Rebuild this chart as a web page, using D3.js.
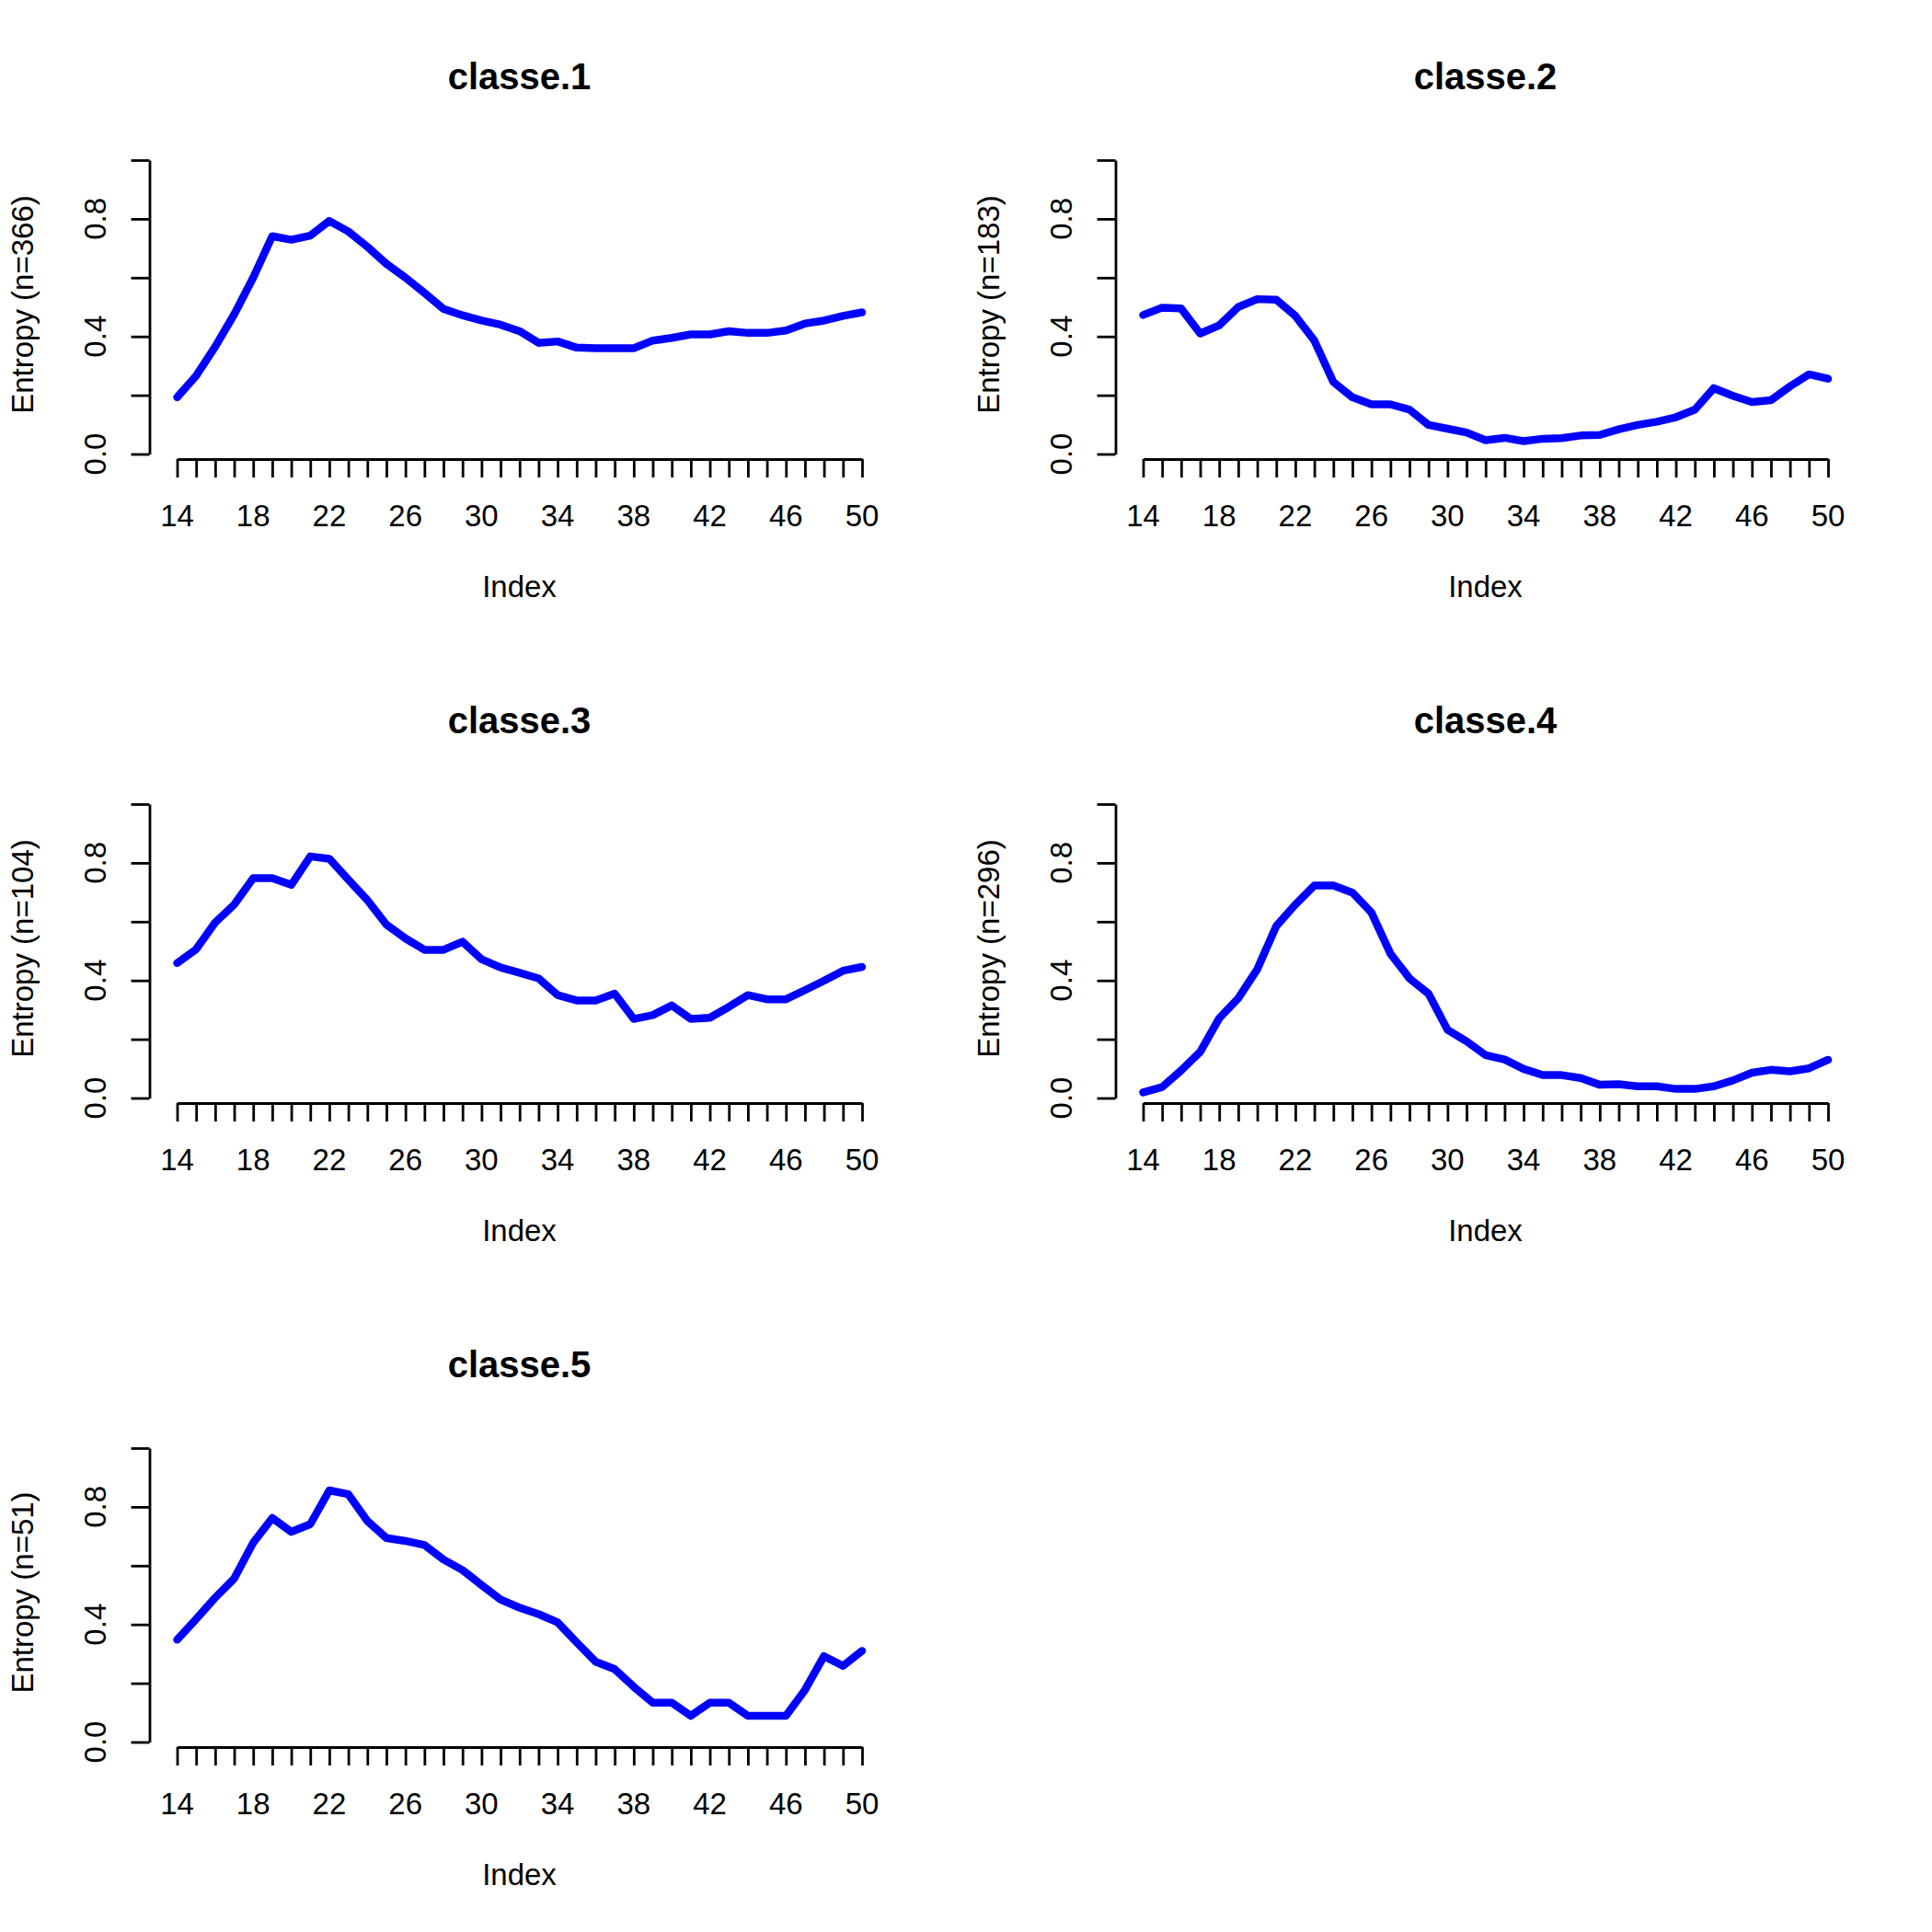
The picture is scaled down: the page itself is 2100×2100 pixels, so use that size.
<!DOCTYPE html>
<html><head><meta charset="utf-8">
<script src="https://cdn.jsdelivr.net/npm/d3@7"></script>
<style>body{margin:0;background:#fff} svg{display:block}</style>
</head><body>
<script>
// ---- data ----
const indexValues = [14,15,16,17,18,19,20,21,22,23,24,25,26,27,28,29,30,31,32,33,34,35,36,37,38,39,40,41,42,43,44,45,46,47,48,49,50];
const classe1 = [0.193,0.266,0.365,0.475,0.600,0.741,0.729,0.743,0.793,0.757,0.705,0.647,0.600,0.548,0.494,0.472,0.454,0.440,0.418,0.378,0.383,0.362,0.360,0.360,0.360,0.386,0.395,0.407,0.407,0.418,0.412,0.412,0.420,0.444,0.454,0.470,0.482];
const classe2 = [0.473,0.498,0.495,0.410,0.438,0.500,0.527,0.525,0.470,0.386,0.245,0.193,0.169,0.169,0.151,0.099,0.086,0.073,0.047,0.055,0.044,0.052,0.054,0.063,0.065,0.084,0.099,0.110,0.125,0.151,0.224,0.198,0.177,0.183,0.230,0.271,0.256];
const classe3 = [0.459,0.506,0.597,0.658,0.748,0.748,0.725,0.822,0.814,0.743,0.673,0.590,0.543,0.504,0.504,0.532,0.472,0.444,0.426,0.407,0.350,0.332,0.332,0.355,0.269,0.282,0.315,0.269,0.273,0.310,0.350,0.336,0.336,0.367,0.399,0.433,0.446];
const classe4 = [0.019,0.037,0.094,0.157,0.271,0.339,0.438,0.585,0.658,0.723,0.723,0.699,0.631,0.491,0.407,0.355,0.232,0.193,0.146,0.131,0.099,0.078,0.078,0.068,0.045,0.047,0.040,0.040,0.031,0.031,0.040,0.060,0.086,0.096,0.091,0.101,0.130];
const classe5 = [0.348,0.418,0.491,0.556,0.678,0.762,0.715,0.741,0.856,0.843,0.752,0.694,0.684,0.670,0.621,0.585,0.534,0.485,0.457,0.435,0.407,0.339,0.273,0.248,0.188,0.134,0.134,0.089,0.134,0.134,0.089,0.089,0.089,0.177,0.292,0.259,0.310];
const panelTitles = ["classe.1","classe.2","classe.3","classe.4","classe.5"];
const panelCounts = [366,183,104,296,51];
const xTickLabels = [14,18,22,26,30,34,38,42,46,50];
const yTickValues = [0,0.2,0.4,0.6,0.8,1.0];
const yTickLabels = [0,0.4,0.8];

// ---- drawing ----
const W = 2100, H = 2100;
const FONT = "'Liberation Sans', Arial, sans-serif";
const svg = d3.select("body").append("svg").attr("width", W).attr("height", H);
svg.append("rect").attr("width", W).attr("height", H).attr("fill", "#fff");

const series = [classe1, classe2, classe3, classe4, classe5];
const plotLeft = 162.5, plotRight = 966.5, axisBottomY = 499;

series.forEach((vals, i) => {
  const col = i % 2, row = Math.floor(i / 2);
  const g = svg.append("g").attr("transform", `translate(${col * 1050},${row * 700})`);
  const x = d3.scaleLinear().domain([14, 50]).range([192.5, 937]);
  const y = d3.scaleLinear().domain([0, 1]).range([493.5, 174]);

  const ya = g.append("g").attr("transform", `translate(${plotLeft},0)`)
    .call(d3.axisLeft(y).tickValues(yTickValues).tickSize(20).tickSizeOuter(0).tickFormat(""));
  const xa = g.append("g").attr("transform", `translate(0,${axisBottomY})`)
    .call(d3.axisBottom(x).tickValues(indexValues).tickSize(20).tickSizeOuter(0).tickFormat(""));
  [ya, xa].forEach(a => {
    a.selectAll("path.domain").attr("stroke", "#000").attr("stroke-width", 2.8);
    a.selectAll(".tick line").attr("stroke", "#000").attr("stroke-width", 2.8);
  });

  g.selectAll("text.ytl").data(yTickLabels).enter().append("text")
    .attr("class", "ytl")
    .attr("transform", d => `translate(115,${y(d)}) rotate(-90)`)
    .attr("text-anchor", "middle")
    .attr("font-family", FONT).attr("font-size", 33)
    .text(d => d.toFixed(1));

  g.selectAll("text.xtl").data(xTickLabels).enter().append("text")
    .attr("class", "xtl")
    .attr("x", d => x(d)).attr("y", 572)
    .attr("text-anchor", "middle")
    .attr("font-family", FONT).attr("font-size", 33)
    .text(d => d);

  const cx = (plotLeft + plotRight) / 2;
  g.append("text").attr("x", cx).attr("y", 97)
    .attr("text-anchor", "middle").attr("font-family", FONT)
    .attr("font-weight", "bold").attr("font-size", 40)
    .text(panelTitles[i]);
  g.append("text").attr("x", cx).attr("y", 649)
    .attr("text-anchor", "middle").attr("font-family", FONT).attr("font-size", 33)
    .text("Index");
  g.append("text").attr("transform", `translate(36,331) rotate(-90)`)
    .attr("text-anchor", "middle").attr("font-family", FONT).attr("font-size", 33)
    .text(`Entropy (n=${panelCounts[i]})`);

  const line = d3.line().x((d, j) => x(indexValues[j])).y(d => y(d));
  g.append("path").datum(vals)
    .attr("d", line)
    .attr("fill", "none").attr("stroke", "#0000FF")
    .attr("stroke-width", 8.5)
    .attr("stroke-linecap", "round").attr("stroke-linejoin", "round");
});
</script>
</body></html>
